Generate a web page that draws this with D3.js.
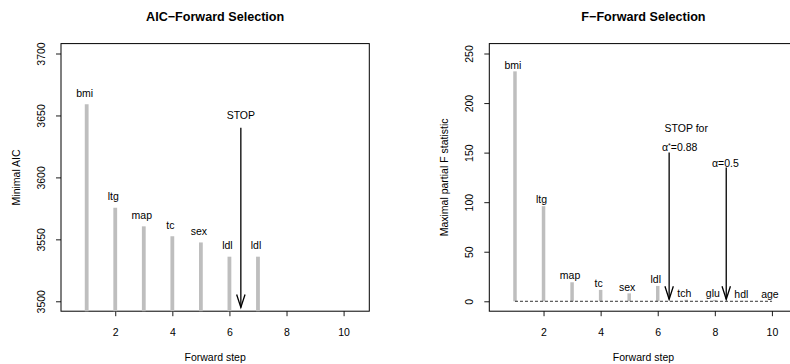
<!DOCTYPE html>
<html>
<head>
<meta charset="utf-8">
<script src="https://cdn.jsdelivr.net/npm/d3@7"></script>
<style>
  html, body { margin: 0; padding: 0; background: #fff; }
  svg { display: block; font-family: "Liberation Sans", Arial, Helvetica, sans-serif; }
</style>
</head>
<body>
<svg id="chart" width="790" height="364"></svg>
<script>
// Forward selection on the diabetes data: minimal AIC and maximal partial F per step
const aicSteps = [1, 2, 3, 4, 5, 6, 7];
const aicVars = ["bmi", "ltg", "map", "tc", "sex", "ldl", "ldl"];
const aicValues = [3659, 3575.5, 3560.5, 3552.5, 3547.5, 3536, 3536];

const fSteps = [1, 2, 3, 4, 5, 6, 7, 8, 9, 10];
const fVars = ["bmi", "ltg", "map", "tc", "sex", "ldl", "tch", "glu", "hdl", "age"];
const fValues = [232, 96, 19.2, 11.5, 8, 15.5, 1.5, 1.4, 0.5, 0.1];

const xTicks = [2, 4, 6, 8, 10];
const aicTicks = [3500, 3550, 3600, 3650, 3700];
const fTicks = [0, 50, 100, 150, 200, 250];

// stop markers: step, arrow start, arrow end
const aicStop = { step: 6.4, from: 3640, to: 3495, label: "STOP", labelY: 3650 };
const fStops = [
  { step: 6.4, from: 150, to: 2 },
  { step: 8.4, from: 135, to: 2 }
];

const svg = d3.select("#chart");
svg.append("rect").attr("width", 790).attr("height", 364).attr("fill", "#fff");

const FS = 10.5;
const barColor = "#bebebe";
const plotTop = 43.6, plotBottom = 311.2;

function panel(x0, x1, yDomain, ticks, title, ylab) {
  const g = svg.append("g");
  const x = d3.scaleLinear().domain([0.1, 10.9]).range([x0, x1]);
  const y = d3.scaleLinear().domain(yDomain).range([plotBottom, plotTop]);

  // x axis
  const xa = g.append("g").attr("transform", `translate(0,${plotBottom})`)
    .call(d3.axisBottom(x).tickValues(xTicks).tickSize(5).tickFormat(d3.format("d")));
  xa.select(".domain").remove();
  xa.attr("font-family", null);
  xa.selectAll("line").attr("stroke", "#000").attr("stroke-width", 0.9);
  xa.selectAll("text").attr("y", 25).attr("dy", null)
    .attr("font-size", FS).attr("fill", "#000");

  // y axis with rotated labels
  const ya = g.append("g").attr("transform", `translate(${x0},0)`)
    .call(d3.axisLeft(y).tickValues(ticks).tickSize(5).tickFormat(d3.format("d")));
  ya.select(".domain").remove();
  ya.attr("font-family", null);
  ya.selectAll("line").attr("stroke", "#000").attr("stroke-width", 0.9);
  ya.selectAll("text")
    .attr("x", null).attr("dy", null)
    .attr("text-anchor", "middle")
    .attr("transform", "translate(-16,0) rotate(-90)")
    .attr("font-size", FS).attr("fill", "#000");

  // plot box
  g.append("rect").attr("x", x0).attr("y", plotTop)
    .attr("width", x1 - x0).attr("height", plotBottom - plotTop)
    .attr("fill", "none").attr("stroke", "#000").attr("stroke-width", 1);

  const cx = (x0 + x1) / 2;
  g.append("text").attr("x", cx).attr("y", 20.5).attr("text-anchor", "middle")
    .attr("font-size", 12.6).attr("font-weight", "bold").text(title);
  g.append("text").attr("x", cx).attr("y", 361).attr("text-anchor", "middle")
    .attr("font-size", FS).text("Forward step");
  g.append("text").attr("transform", `translate(${x0 - 41.5},${(plotTop + plotBottom) / 2}) rotate(-90)`)
    .attr("text-anchor", "middle").attr("font-size", FS).text(ylab);

  return { g, x, y };
}

function arrow(g, xp, y1, y2) {
  g.append("line").attr("x1", xp).attr("x2", xp).attr("y1", y1).attr("y2", y2)
    .attr("stroke", "#000").attr("stroke-width", 1.3);
  g.append("path")
    .attr("d", `M${xp - 4.2},${y2 - 13} L${xp},${y2} L${xp + 4.2},${y2 - 13}`)
    .attr("fill", "none").attr("stroke", "#000").attr("stroke-width", 1.3);
}

// ---- AIC panel ----
const L = panel(61, 369.3, [3492, 3708], aicTicks, "AIC\u2212Forward Selection", "Minimal AIC");
L.g.selectAll(".bar").data(aicValues).join("line")
  .attr("x1", (d, i) => L.x(aicSteps[i])).attr("x2", (d, i) => L.x(aicSteps[i]))
  .attr("y1", d => L.y(d)).attr("y2", plotBottom)
  .attr("stroke", barColor).attr("stroke-width", 3.8);
L.g.selectAll(".lab").data(aicValues).join("text")
  .attr("x", (d, i) => L.x(aicSteps[i]) - 2).attr("y", d => L.y(d) - 7.5)
  .attr("text-anchor", "middle").attr("font-size", FS)
  .text((d, i) => aicVars[i]);
arrow(L.g, L.x(aicStop.step), L.y(aicStop.from), L.y(aicStop.to));
L.g.append("text").attr("x", L.x(aicStop.step)).attr("y", L.y(aicStop.labelY) + 4)
  .attr("text-anchor", "middle").attr("font-size", FS).text(aicStop.label);

// ---- F panel ----
const R = panel(489.3, 797.6, [-10, 260], fTicks, "F\u2212Forward Selection", "Maximal partial F statistic");
R.g.selectAll(".bar").data(fValues).join("line")
  .attr("x1", (d, i) => R.x(fSteps[i])).attr("x2", (d, i) => R.x(fSteps[i]))
  .attr("y1", d => R.y(d)).attr("y2", R.y(0))
  .attr("stroke", barColor).attr("stroke-width", 3.5);
R.g.append("line")
  .attr("x1", R.x(fSteps[0])).attr("x2", R.x(fSteps[fSteps.length - 1]))
  .attr("y1", R.y(0)).attr("y2", R.y(0))
  .attr("stroke", "#000").attr("stroke-width", 0.8).attr("stroke-dasharray", "3,2");
R.g.selectAll(".lab").data(fValues).join("text")
  .attr("x", (d, i) => R.x(fSteps[i]) - 2).attr("y", d => R.y(d) - 2.8)
  .attr("text-anchor", "middle").attr("font-size", FS)
  .text((d, i) => fVars[i]);
fStops.forEach(s => arrow(R.g, R.x(s.step), R.y(s.from), R.y(s.to)));

R.g.append("text").attr("x", R.x(7.0)).attr("y", R.y(175) + 4)
  .attr("text-anchor", "middle").attr("font-size", FS).text("STOP for");
const a1 = R.g.append("text").attr("x", R.x(6.77)).attr("y", R.y(155) + 3.7)
  .attr("text-anchor", "middle").attr("font-size", FS);
a1.append("tspan").text("\u03b1");
a1.append("tspan").attr("dy", -3).attr("font-size", 7).text("*");
a1.append("tspan").attr("dy", 3).text("=0.88");
R.g.append("text").attr("x", R.x(8.37)).attr("y", R.y(139.5) + 3.7)
  .attr("text-anchor", "middle").attr("font-size", FS).text("\u03b1=0.5");
</script>
</body>
</html>
